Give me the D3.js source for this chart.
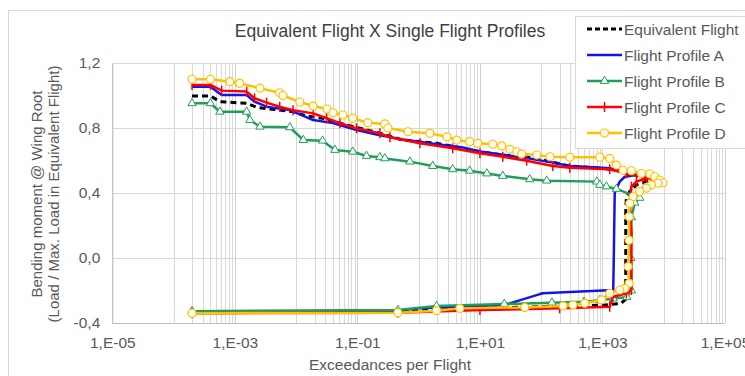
<!DOCTYPE html>
<html><head><meta charset="utf-8">
<script src="https://cdn.jsdelivr.net/npm/d3@7/dist/d3.min.js"></script>
<style>
body{margin:0;background:#fff;}
text{font-family:"Liberation Sans",Arial,sans-serif;}
</style></head>
<body><svg id="c" width="745" height="376"></svg>
<script>
const title = "Equivalent Flight X Single Flight Profiles";
const xTitle = "Exceedances per Flight";
const yTitle = ["Bending moment @ Wing Root", "(Load / Max. Load in Equivalent Flight)"];
const xTickValues = [1e-5, 1e-3, 1e-1, 1e1, 1e3, 1e5];
const xTickLabels = ["1,E-05", "1,E-03", "1,E-01", "1,E+01", "1,E+03", "1,E+05"];
const yTickValues = [-0.4, 0, 0.4, 0.8, 1.2];
const yTickLabels = ["-0,4", "0,0", "0,4", "0,8", "1,2"];
const seriesNames = ["Equivalent Flight", "Flight Profile A", "Flight Profile B", "Flight Profile C", "Flight Profile D"];

// [exceedances per flight, load ratio]
const equivalentFlight = [[2e-4,0.997],[4e-4,0.997],[5.7e-4,0.962],[1.56e-3,0.952],[2.27e-3,0.927],[4.2e-3,0.915],[8.9e-3,0.90],[1.48e-2,0.874],[2.7e-2,0.86],[5.2e-2,0.829],[0.11,0.798],[0.2,0.775],[0.55,0.726],[1.98,0.706],[5.3,0.675],[10,0.654],[23.6,0.634],[58,0.62],[95,0.607],[139,0.593],[293,0.566],[1010,0.552],[2460,0.53],[5900,0.48],[3590,0.45],[2790,0.41],[2460,0.37],[2400,0.30],[2400,0.0],[2400,-0.2],[2460,-0.25],[2000,-0.28],[1000,-0.29],[100,-0.30],[10,-0.31],[1,-0.325],[0.458,-0.33],[2e-4,-0.335]];
const profileA = [[2e-4,1.054],[4e-4,1.054],[6.1e-4,1.003],[1.56e-3,1.003],[2.1e-3,0.962],[3.3e-3,0.931],[7.9e-3,0.91],[1.9e-2,0.849],[4e-2,0.83],[9.7e-2,0.788],[0.233,0.755],[0.55,0.73],[2,0.70],[5.3,0.68],[10,0.655],[24,0.635],[58,0.615],[139,0.59],[293,0.566],[1010,0.555],[1315,0.552],[2170,0.531],[3590,0.51],[2310,0.50],[1915,0.47],[1645,0.418],[1585,0.398],[1530,0.0],[1500,-0.197],[106,-0.217],[95,-0.222],[30.7,-0.279],[23.6,-0.29],[1,-0.31],[0.458,-0.325],[2e-4,-0.33]];
const profileB = [[2e-4,0.952],[4e-4,0.952],[5.7e-4,0.90],[1.56e-3,0.90],[1.76e-3,0.849],[2.57e-3,0.808],[7.9e-3,0.804],[1.31e-2,0.726],[2.7e-2,0.722],[4.3e-2,0.665],[8.4e-2,0.654],[0.141,0.628],[0.233,0.62],[0.28,0.613],[0.72,0.593],[1.7,0.566],[3.6,0.546],[6.8,0.537],[13,0.52],[23.6,0.505],[65,0.484],[123,0.476],[807,0.47],[903,0.45],[1160,0.44],[1690,0.425],[4060,0.37],[3370,0.34],[2970,0.25],[2900,0.0],[2970,-0.2],[2500,-0.24],[1500,-0.25],[900,-0.26],[500,-0.269],[150,-0.275],[25,-0.283],[1.96,-0.296],[0.458,-0.32],[2e-4,-0.327]];
const profileC = [[2e-4,1.065],[4e-4,1.065],[6.1e-4,1.03],[1.56e-3,1.024],[2.1e-3,0.983],[3.3e-3,0.956],[5.4e-3,0.931],[8.9e-3,0.91],[1.9e-2,0.89],[3.15e-2,0.86],[5.2e-2,0.829],[9.7e-2,0.798],[0.233,0.767],[0.34,0.743],[1.05,0.706],[3.6,0.675],[10,0.644],[23.6,0.623],[58,0.599],[155,0.566],[293,0.555],[1315,0.546],[2460,0.52],[5220,0.497],[6300,0.49],[4540,0.484],[3590,0.47],[2970,0.439],[2790,0.357],[2970,0.152],[2970,-0.197],[2460,-0.217],[1470,-0.24],[1315,-0.30],[200,-0.31],[10,-0.32],[0.458,-0.337],[2e-4,-0.34]];
const profileD = [[2e-4,1.10],[4e-4,1.10],[8.3e-4,1.085],[1.2e-3,1.075],[2.57e-3,1.045],[5.4e-3,1.017],[6.1e-3,1.0],[1.15e-2,0.96],[1.9e-2,0.935],[3.2e-2,0.917],[4e-2,0.894],[5.8e-2,0.88],[8.4e-2,0.86],[0.148,0.833],[0.28,0.825],[0.315,0.80],[0.67,0.777],[1.52,0.767],[2.9,0.746],[4.2,0.726],[6.8,0.716],[9.2,0.706],[16.2,0.70],[22.7,0.69],[30.7,0.669],[40,0.654],[48,0.64],[85,0.634],[139,0.623],[293,0.62],[903,0.62],[1315,0.613],[1690,0.572],[2170,0.54],[2970,0.537],[4320,0.52],[5910,0.517],[7130,0.50],[8600,0.48],[9750,0.463],[8070,0.46],[6300,0.45],[5220,0.43],[4060,0.41],[3160,0.377],[2790,0.336],[2720,0.254],[2720,0.11],[2620,-0.053],[2720,-0.156],[2310,-0.187],[1915,-0.197],[1315,-0.217],[963,-0.258],[514,-0.279],[331,-0.289],[228,-0.295],[54,-0.304],[4.7,-0.31],[1.96,-0.324],[0.458,-0.337],[2e-4,-0.34]];

const series = [
  {name: seriesNames[0], data: equivalentFlight, color: "#000000", dash: "6,4", marker: null},
  {name: seriesNames[1], data: profileA, color: "#1414e6", dash: null, marker: null},
  {name: seriesNames[2], data: profileB, color: "#1e9e5a", dash: null, marker: "tri"},
  {name: seriesNames[3], data: profileC, color: "#ff0000", dash: null, marker: "tick"},
  {name: seriesNames[4], data: profileD, color: "#ffc000", dash: null, marker: "circle"}
];

const svg = d3.select("#c");
const X0 = 112.3, X1 = 725, Y0 = 63, Y1 = 323;
const x = d3.scaleLog().domain([1e-5, 1e5]).range([X0, X1]);
const y = d3.scaleLinear().domain([-0.4, 1.2]).range([Y1, Y0]);
const FS = 15.5;

// outer chart border
svg.append("rect").attr("x", 8.5).attr("y", 10.5).attr("width", 760).attr("height", 380)
  .attr("fill", "#fff").attr("stroke", "#d9d9d9");

// gridlines
const grid = svg.append("g");
const minorVals = [];
[-4, -2, 0, 2, 4].forEach(e => { for (let m = 1; m <= 9; m++) minorVals.push(m * Math.pow(10, e)); });
grid.selectAll("line.minor").data(minorVals).join("line")
  .attr("x1", d => Math.round(x(d)) + 0.5).attr("x2", d => Math.round(x(d)) + 0.5)
  .attr("y1", Y0).attr("y2", Y1).attr("stroke", "#d9d9d9").attr("stroke-width", 1);
grid.selectAll("line.major").data(xTickValues).join("line")
  .attr("x1", d => Math.round(x(d)) + 0.5).attr("x2", d => Math.round(x(d)) + 0.5)
  .attr("y1", Y0).attr("y2", Y1).attr("stroke", "#d0d0d0").attr("stroke-width", 1);
grid.selectAll("line.h").data(yTickValues).join("line")
  .attr("x1", X0).attr("x2", X1)
  .attr("y1", d => Math.round(y(d)) + 0.5).attr("y2", d => Math.round(y(d)) + 0.5)
  .attr("stroke", d => d === -0.4 ? "#bfbfbf" : "#d9d9d9");

// axes
const xAxis = d3.axisBottom(x).tickValues(xTickValues).tickSize(0).tickPadding(14)
  .tickFormat((d, i) => xTickLabels[i]);
const gx = svg.append("g").attr("transform", `translate(0,${Y1})`).call(xAxis);
gx.select(".domain").remove();
gx.selectAll("text").attr("font-size", FS).attr("fill", "#595959").attr("font-family", "Liberation Sans, Arial, sans-serif");

const yAxis = d3.axisLeft(y).tickValues(yTickValues).tickSize(0).tickPadding(12)
  .tickFormat((d, i) => yTickLabels[i]);
const gy = svg.append("g").attr("transform", `translate(${X0},0)`).call(yAxis);
gy.select(".domain").attr("stroke", "#bfbfbf");
gy.selectAll("text").attr("font-size", FS).attr("fill", "#595959").attr("font-family", "Liberation Sans, Arial, sans-serif");

// series lines
const line = d3.line().x(d => x(d[0])).y(d => y(d[1]));
const plot = svg.append("g");
series.forEach(s => {
  const g = plot.append("g");
  g.append("path").datum(s.data).attr("d", line).attr("fill", "none")
    .attr("stroke", s.color).attr("stroke-width", s.dash ? 3 : 2.5)
    .attr("stroke-dasharray", s.dash).attr("stroke-linejoin", "round");
  if (s.marker === "tri") {
    g.selectAll("path.m").data(s.data).join("path")
      .attr("d", d3.symbol(d3.symbolTriangle, 30))
      .attr("transform", d => `translate(${x(d[0])},${y(d[1])})`)
      .attr("fill", "#ffffff").attr("stroke", s.color).attr("stroke-width", 1);
  } else if (s.marker === "tick") {
    g.selectAll("line.m").data(s.data).join("line")
      .attr("x1", d => x(d[0])).attr("x2", d => x(d[0]))
      .attr("y1", d => y(d[1]) - 5).attr("y2", d => y(d[1]) + 5)
      .attr("stroke", s.color).attr("stroke-width", 1.5);
  } else if (s.marker === "circle") {
    g.selectAll("circle.m").data(s.data).join("circle")
      .attr("cx", d => x(d[0])).attr("cy", d => y(d[1])).attr("r", 4)
      .attr("fill", "#fffdf0").attr("stroke", s.color).attr("stroke-width", 1.2);
  }
});

// title
svg.append("text").attr("x", 390).attr("y", 37).attr("text-anchor", "middle")
  .attr("font-size", 17.5).attr("fill", "#404040").text(title);

// axis titles
svg.append("text").attr("x", 390).attr("y", 370).attr("text-anchor", "middle")
  .attr("font-size", FS).attr("fill", "#595959").text(xTitle);
yTitle.forEach((t, i) => {
  svg.append("text").attr("transform", `translate(${42 + i * 17},${194}) rotate(-90)`)
    .attr("text-anchor", "middle").attr("font-size", 15).attr("fill", "#595959").text(t);
});

// legend
const lg = svg.append("g");
lg.append("rect").attr("x", 575.5).attr("y", 16.5).attr("width", 200).attr("height", 132)
  .attr("fill", "#fff").attr("stroke", "#d9d9d9");
series.forEach((s, i) => {
  const cy = 29 + i * 26;
  lg.append("line").attr("x1", 587).attr("x2", 622).attr("y1", cy).attr("y2", cy)
    .attr("stroke", s.color).attr("stroke-width", s.dash ? 3 : 2.5).attr("stroke-dasharray", s.dash ? "5,3" : null);
  const mx = 604.5;
  if (s.marker === "tri") {
    lg.append("path").attr("d", d3.symbol(d3.symbolTriangle, 30)).attr("transform", `translate(${mx},${cy})`)
      .attr("fill", "#fff").attr("stroke", s.color);
  } else if (s.marker === "tick") {
    lg.append("line").attr("x1", mx).attr("x2", mx).attr("y1", cy - 5).attr("y2", cy + 5)
      .attr("stroke", s.color).attr("stroke-width", 1.5);
  } else if (s.marker === "circle") {
    lg.append("circle").attr("cx", mx).attr("cy", cy).attr("r", 4).attr("fill", "#fffdf0")
      .attr("stroke", s.color).attr("stroke-width", 1.2);
  }
  lg.append("text").attr("x", 624).attr("y", cy + 5.5).attr("font-size", FS).attr("fill", "#595959").text(s.name);
});
</script></body></html>
